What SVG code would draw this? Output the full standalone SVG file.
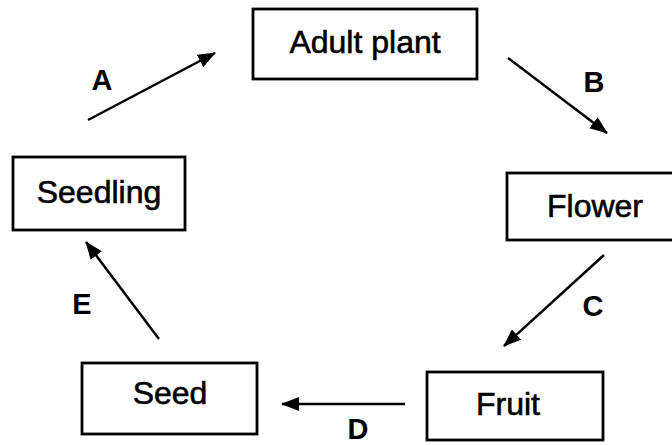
<svg xmlns="http://www.w3.org/2000/svg" width="672" height="445" viewBox="0 0 672 445">
<style>
.box{fill:#fff;stroke:#000;stroke-width:2.8}
.t{font-family:"Liberation Sans",Arial,sans-serif;font-size:32px;fill:#000;stroke:#000;stroke-width:0.6;text-anchor:middle}
.lb{font-family:"Liberation Sans",Arial,sans-serif;font-size:29px;font-weight:bold;fill:#000;text-anchor:middle}
.c{stroke:#000;stroke-width:2.5;fill:none;marker-end:url(#ah)}
</style>
<defs>
<marker id="ah" viewBox="0 0 18 14" refX="17" refY="7" markerWidth="18" markerHeight="14" markerUnits="userSpaceOnUse" orient="auto">
<path d="M0,0 L18,7 L0,14 z" fill="#000"/>
</marker>
</defs>
<rect width="672" height="445" fill="#fff"/>
<g id="adult-plant"><rect class="box" x="253" y="9" width="224" height="70"/><text class="t" x="365" y="53">Adult plant</text></g>
<g id="flower"><rect class="box" x="507" y="173" width="180" height="67"/><text class="t" x="595" y="217">Flower</text></g>
<g id="fruit"><rect class="box" x="427" y="372" width="176" height="68"/><text class="t" x="508" y="415">Fruit</text></g>
<g id="seed"><rect class="box" x="82" y="363" width="175" height="71"/><text class="t" x="170" y="404">Seed</text></g>
<g id="seedling"><rect class="box" x="13" y="157" width="172" height="73"/><text class="t" x="99" y="203">Seedling</text></g>
<g id="connectors">
<line class="c" x1="88" y1="120" x2="215" y2="53"/>
<line class="c" x1="508" y1="58" x2="607" y2="133"/>
<line class="c" x1="604" y1="255" x2="504" y2="346"/>
<line class="c" x1="405" y1="404" x2="282" y2="404"/>
<line class="c" x1="159" y1="339" x2="86" y2="242"/>
</g>
<g id="labels">
<text class="lb" x="102" y="90">A</text>
<text class="lb" x="594" y="92">B</text>
<text class="lb" x="593" y="316">C</text>
<text class="lb" x="358" y="439">D</text>
<text class="lb" x="82" y="314">E</text>
</g>
</svg>
